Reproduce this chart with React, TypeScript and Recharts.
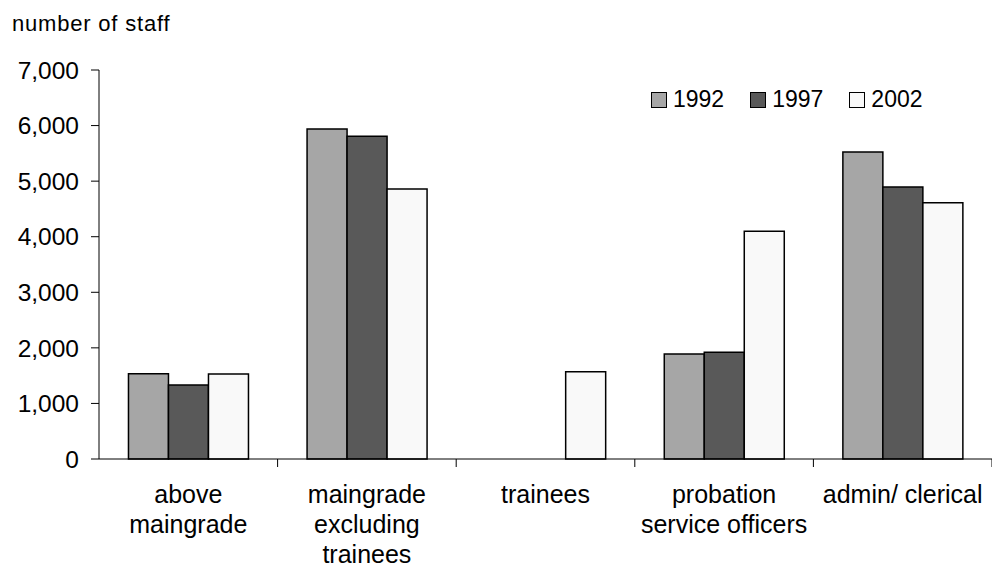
import { BarChart, Bar, XAxis, YAxis } from "recharts";

const categories = [
  ["above", "maingrade"],
  ["maingrade", "excluding", "trainees"],
  ["trainees"],
  ["probation", "service officers"],
  ["admin/ clerical"],
];
const years = ["1992", "1997", "2002"];
const staff1992 = [1535, 5940, null, 1890, 5525];
const staff1997 = [1330, 5810, null, 1920, 4895];
const staff2002 = [1530, 4860, 1570, 4100, 4610];
const yTicks = [0, 1000, 2000, 3000, 4000, 5000, 6000, 7000];

const FILLS = ["#a6a6a6", "#595959", "#f9f9f9"];
const FONT = "'Liberation Sans', Arial, sans-serif";

const data = categories.map((lines, i) => ({
  name: lines.join(" "),
  lines,
  y1992: staff1992[i],
  y1997: staff1997[i],
  y2002: staff2002[i],
}));

// label in the middle of the band, tick mark on the band edges
function CategoryTick(props: any) {
  const { x, y, payload, index } = props;
  const half = payload.offset || 89.3;
  const lines: string[] = data[index] ? data[index].lines : [String(payload.value)];
  return (
    <g>
      <line x1={x + half} y1={y - 8} x2={x + half} y2={y} stroke="#000" />
      <text x={x} y={y + 36} textAnchor="middle" fontFamily={FONT} fontSize={25} fill="#000">
        {lines.map((l, k) => (
          <tspan key={k} x={x} dy={k === 0 ? 0 : 30}>
            {l}
          </tspan>
        ))}
      </text>
    </g>
  );
}

function LegendBox() {
  return (
    <div
      style={{
        position: "absolute",
        left: 651,
        top: 86,
        display: "flex",
        fontFamily: FONT,
        fontSize: 23,
        color: "#000",
      }}
    >
      {years.map((yr, i) => (
        <div key={yr} style={{ display: "flex", alignItems: "center", marginRight: 26 }}>
          <span
            style={{
              width: 14,
              height: 14,
              background: FILLS[i],
              border: "1.5px solid #000",
              marginRight: 6,
              display: "inline-block",
            }}
          />
          {yr}
        </div>
      ))}
    </div>
  );
}

export default function App() {
  return (
    <div style={{ position: "absolute", left: 0, top: 0, width: 992, height: 570, background: "#fff" }}>
      <div
        style={{
          position: "absolute",
          left: 12,
          top: 11,
          fontFamily: FONT,
          fontSize: 22,
          letterSpacing: 0.8,
          color: "#000",
        }}
      >
        number of staff
      </div>
      <BarChart
        width={992}
        height={570}
        data={data}
        margin={{ top: 70, right: 0, bottom: 0, left: 0 }}
        barGap={0}
        barCategoryGap="16.5%"
      >
        <XAxis
          dataKey="name"
          height={111}
          axisLine={{ stroke: "#000" }}
          tickLine={false}
          interval={0}
          tick={<CategoryTick />}
        />
        <YAxis
          width={99}
          domain={[0, 7000]}
          ticks={yTicks}
          interval={0}
          axisLine={{ stroke: "#000" }}
          tickLine={{ stroke: "#000" }}
          tickSize={8}
          tickMargin={12}
          tickFormatter={(v: number) => v.toLocaleString("en-US")}
          tick={{ fontFamily: FONT, fontSize: 24.5, fill: "#000" }}
        />
        <Bar dataKey="y1992" name="1992" fill={FILLS[0]} stroke="#000" strokeWidth={1.5} isAnimationActive={false} />
        <Bar dataKey="y1997" name="1997" fill={FILLS[1]} stroke="#000" strokeWidth={1.5} isAnimationActive={false} />
        <Bar dataKey="y2002" name="2002" fill={FILLS[2]} stroke="#000" strokeWidth={1.5} isAnimationActive={false} />
      </BarChart>
      <LegendBox />
    </div>
  );
}
